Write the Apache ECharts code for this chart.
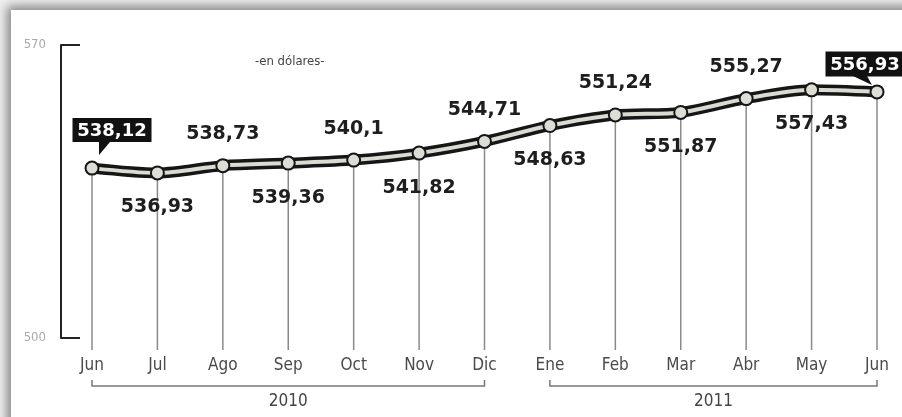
<!DOCTYPE html>
<html>
<head>
<meta charset="utf-8">
<script src="https://cdn.jsdelivr.net/npm/echarts@6/dist/echarts.min.js"></script>
<style>
  html, body { margin: 0; padding: 0; background: #f2f2f2; overflow: hidden; }
  #wrap { position: relative; width: 902px; height: 417px; overflow: hidden; background: #f0f0f0; }
  #panel { position: absolute; left: 11px; top: 10px; width: 920px; height: 440px; background: #fff;
           box-shadow: 0 0 10px 4px rgba(0,0,0,0.45); }
  #chart { position: absolute; left: 0; top: 0; width: 902px; height: 417px; }
</style>
</head>
<body>
<div id="wrap">
  <div id="panel"></div>
  <div id="chart"></div>
</div>
<script>
// ---- data ----
const months = ['Jun', 'Jul', 'Ago', 'Sep', 'Oct', 'Nov', 'Dic', 'Ene', 'Feb', 'Mar', 'Abr', 'May', 'Jun'];
const prices = [538.12, 536.93, 538.73, 539.36, 540.1, 541.82, 544.71, 548.63, 551.24, 551.87, 555.27, 557.43, 556.93];
const yearNames = ['2010', '2011'];
const yearStart = [0, 7];
const yearEnd = [6, 12];
const yTicks = [500, 570];
const unitNote = '-en dólares-';
const calloutIdx = [0, 12];

// ---- styles ----
const labelFont = 'DejaVu Sans';
const axisFont = 'DejaVu Sans Condensed';
const fmt = v => String(v).replace('.', ',');
const calloutCfg = {
  0:  { dx: 20, dy: -38, w: 79, h: 24, tip: [[7, -26], [18, -26], [7, -13]] },
  12: { dx: -12, dy: -28, w: 79, h: 25, tip: [[-24, -16], [-10, -16], [-5, -7]] }
};

const chart = echarts.init(document.getElementById('chart'), null, { renderer: 'canvas' });

const lineData = prices.map((v, i) => ({
  value: v,
  label: {
    show: calloutIdx.indexOf(i) < 0,
    position: i % 2 ? 'bottom' : 'top',
    distance: i % 2 ? 17 : 14
  }
}));

const option = {
  animation: false,
  backgroundColor: 'transparent',
  grid: { left: 92, right: 25, top: 45, bottom: 79 },
  graphic: [{
    type: 'text', left: 255, top: 55,
    style: { text: unitNote, fill: '#444', font: '13px "' + axisFont + '"' }
  }],
  xAxis: {
    type: 'category', data: months, boundaryGap: false,
    axisLine: { show: false }, axisTick: { show: false }, splitLine: { show: false },
    axisLabel: { margin: 19, color: '#4a4a4a', fontSize: 17, fontFamily: axisFont, interval: 0 }
  },
  yAxis: [{
    type: 'value', min: yTicks[0], max: yTicks[1], interval: yTicks[1] - yTicks[0], offset: 31,
    axisLine: { show: true, lineStyle: { color: '#222', width: 2 } },
    axisTick: { show: true, inside: true, length: 19, lineStyle: { color: '#222', width: 2 } },
    splitLine: { show: false },
    axisLabel: { margin: 15, color: '#aaa', fontSize: 13, fontFamily: axisFont }
  }, {
    type: 'value', min: 496.2, max: 568.5, show: false, splitLine: { show: false }
  }],
  series: [
    {
      type: 'custom', yAxisIndex: 1, z: 1, clip: false,
      data: prices.map((v, i) => [i, v]),
      renderItem: (params, api) => {
        const p = api.coord([api.value(0), api.value(1)]);
        const bottom = params.coordSys.y + params.coordSys.height;
        return { type: 'line', shape: { x1: p[0], y1: p[1], x2: p[0], y2: bottom + 12 },
                 style: { stroke: '#8a8a8a', lineWidth: 1.5 } };
      }
    },
    {
      type: 'custom', yAxisIndex: 0, z: 1, clip: false,
      data: yearNames.map((n, k) => [yearStart[k], yearEnd[k]]),
      renderItem: (params, api) => {
        const x0 = api.coord([api.value(0), 500])[0];
        const x1 = api.coord([api.value(1), 500])[0];
        const yb = params.coordSys.y + params.coordSys.height + 48;
        return { type: 'group', children: [
          { type: 'polyline', shape: { points: [[x0, yb - 6], [x0, yb], [x1, yb], [x1, yb - 6]] },
            style: { stroke: '#777', lineWidth: 1.5, fill: null } },
          { type: 'text', x: (x0 + x1) / 2, y: yb + 16,
            style: { text: yearNames[params.dataIndex], fill: '#444', font: '17px "' + axisFont + '"',
                     align: 'center', verticalAlign: 'middle' } }
        ]};
      }
    },
    {
      type: 'line', yAxisIndex: 1, data: prices, smooth: 0.3, symbol: 'none', z: 2,
      lineStyle: { color: '#161616', width: 11 }
    },
    {
      type: 'line', yAxisIndex: 1, data: lineData, smooth: 0.3, z: 3,
      symbol: 'circle', symbolSize: 13,
      itemStyle: { color: '#deddd5', borderColor: '#161616', borderWidth: 2 },
      lineStyle: { color: '#dcdbd3', width: 4 },
      label: {
        formatter: p => fmt(p.value), color: '#1e1e1e', fontFamily: labelFont,
        fontWeight: 'bold', fontSize: 19, lineHeight: 20
      }
    },
    {
      type: 'custom', yAxisIndex: 1, z: 5, clip: false,
      data: calloutIdx.map(i => [i, prices[i]]),
      renderItem: (params, api) => {
        const idx = api.value(0);
        const p = api.coord([idx, api.value(1)]);
        const c = calloutCfg[calloutIdx[params.dataIndex]];
        const cx = p[0] + c.dx, cy = p[1] + c.dy;
        return { type: 'group', children: [
          { type: 'polygon', shape: { points: c.tip.map(t => [p[0] + t[0], p[1] + t[1]]) },
            style: { fill: '#111' } },
          { type: 'rect', shape: { x: cx - c.w / 2, y: cy - c.h / 2, width: c.w, height: c.h },
            style: { fill: '#111' } },
          { type: 'text', x: cx, y: cy + 1,
            style: { text: fmt(prices[calloutIdx[params.dataIndex]]), fill: '#fff',
                     font: 'bold 18px "' + labelFont + '"', align: 'center', verticalAlign: 'middle' } }
        ]};
      }
    }
  ]
};
chart.setOption(option);
</script>
</body>
</html>
